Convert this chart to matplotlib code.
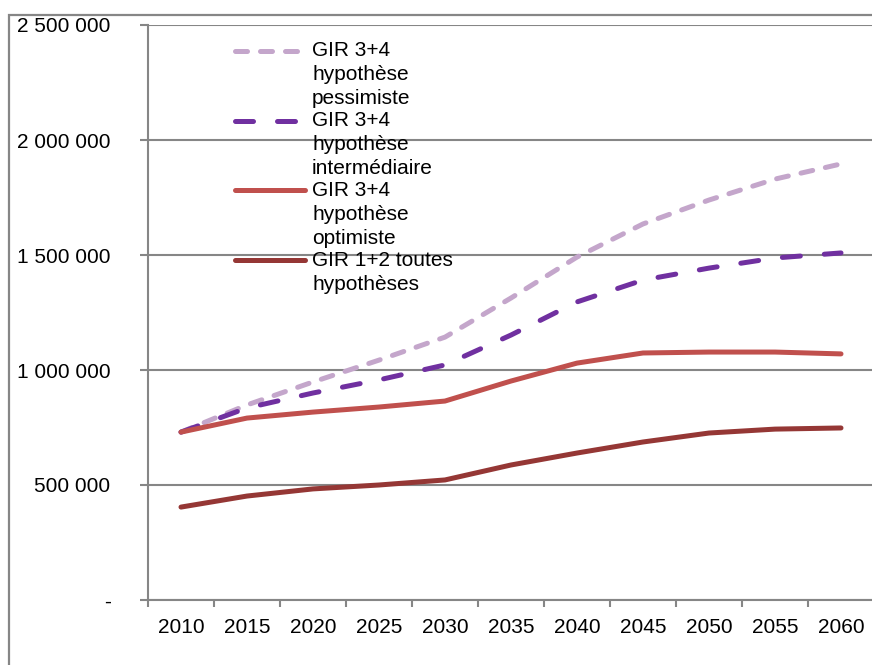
import matplotlib.pyplot as plt
from matplotlib.lines import Line2D
from matplotlib.patches import Rectangle

# data
years = ['2010', '2015', '2020', '2025', '2030', '2035', '2040', '2045', '2050', '2055', '2060']
pessimiste = [730000, 848000, 948000, 1043000, 1143000, 1313000, 1491000, 1635000, 1739000, 1830000, 1896000]
intermediaire = [730000, 835000, 900000, 957000, 1022000, 1152000, 1296000, 1391000, 1443000, 1487000, 1509000]
optimiste = [730000, 791000, 817000, 839000, 865000, 952000, 1030000, 1074000, 1078000, 1078000, 1070000]
gir12 = [404000, 452000, 483000, 500000, 522000, 587000, 639000, 687000, 726000, 743000, 748000]

labels = ['GIR 3+4\nhypothèse\npessimiste',
          'GIR 3+4\nhypothèse\nintermédiaire',
          'GIR 3+4\nhypothèse\noptimiste',
          'GIR 1+2 toutes\nhypothèses']
yTicks = [0, 500000, 1000000, 1500000, 2000000, 2500000]
yTickLabels = ['-', '500 000', '1 000 000', '1 500 000', '2 000 000', '2 500 000']

plt.rcParams['font.family'] = ['Liberation Sans', 'DejaVu Sans']
gridGrey = '#868686'

W, H = 872, 665
fig = plt.figure(figsize=(W / 100, H / 100), dpi=100)
# plot area in pixels: left 148, right 874, top 25, bottom 600
ax = fig.add_axes([148 / W, (H - 600) / H, 726 / W, 575 / H])

# outer frame of the chart, cut off on the right and bottom
fig.add_artist(Rectangle((9 / W, -0.2), 1.2, 1.2 - 15 / H, transform=fig.transFigure,
                         fill=False, edgecolor=gridGrey, linewidth=1.6))

x = list(range(len(years)))
styles = [
    (pessimiste, '#C4A6CB', (2.4, 2.6)),
    (intermediaire, '#7030A0', (3.6, 4.8)),
    (optimiste, '#C0504D', None),
    (gir12, '#953735', None),
]
lw = 3.6
for values, color, dash in styles:
    if dash:
        ax.plot(x, values, color=color, linewidth=lw, dashes=dash,
                dash_capstyle='round', zorder=3)
    else:
        ax.plot(x, values, color=color, linewidth=lw,
                solid_capstyle='round', solid_joinstyle='round', zorder=3)

ax.set_xlim(-0.5, len(years) - 0.5)
ax.set_ylim(0, 2500000)

# y axis
ax.set_yticks(yTicks)
ax.set_yticklabels(yTickLabels)
ax.yaxis.grid(True, color=gridGrey, linewidth=1.5)
ax.set_axisbelow(True)
ax.tick_params(axis='y', length=6, width=1.5, color=gridGrey, pad=21, labelsize=15)

# x axis: labels at centres, tick marks between categories
ax.set_xticks(x)
ax.set_xticklabels(years)
ax.set_xticks([i - 0.5 for i in range(len(years) + 1)], minor=True)
ax.tick_params(axis='x', which='major', length=0, pad=13, labelsize=15)
ax.tick_params(axis='x', which='minor', length=5, width=1.5, color=gridGrey)

for side in ['top', 'right']:
    ax.spines[side].set_visible(False)
for side in ['left', 'bottom']:
    ax.spines[side].set_color(gridGrey)
    ax.spines[side].set_linewidth(1.5)

# hand made legend, entries overlap like in the original
entryY = [51, 121, 190, 260]
for (values, color, dash), label, yPix in zip(styles, labels, entryY):
    yA = (600 - yPix) / 575
    handle = Line2D([(235 - 148) / 726, (305 - 148) / 726], [yA, yA], transform=ax.transAxes,
                    color=color, linewidth=lw, zorder=4)
    if dash:
        handle.set_dashes(dash)
        handle.set_dash_capstyle('round')
    else:
        handle.set_solid_capstyle('round')
    ax.add_line(handle)
    for i, line in enumerate(label.split('\n')):
        ax.text((312 - 148) / 726, (600 - yPix - 24 * i) / 575, line, transform=ax.transAxes,
                fontsize=15, va='center', ha='left', zorder=5)

fig.savefig('out.png', dpi=100)
